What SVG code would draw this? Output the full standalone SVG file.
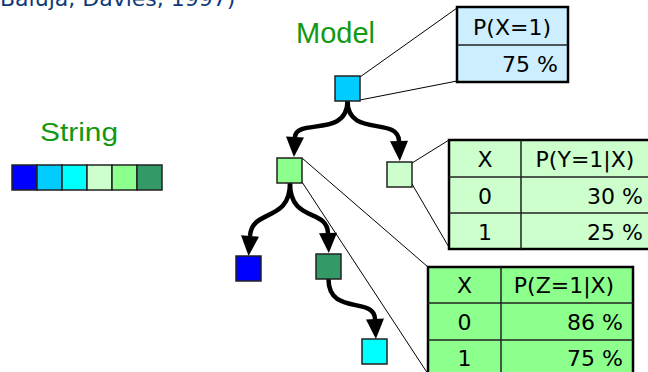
<svg xmlns="http://www.w3.org/2000/svg" width="648" height="372" viewBox="0 0 648 372">
<defs>
<style>
.node{stroke:#222;stroke-width:1.5}
.thin{stroke:#000;stroke-width:1;fill:none}
.arrow{stroke:#000;stroke-width:4.5;fill:none;marker-end:url(#ah)}
.tbl{stroke:#000;stroke-width:2.5}
.div{stroke:#222;stroke-width:1.5}
.tt{font-family:"DejaVu Sans",Verdana,sans-serif;font-size:22px;fill:#000}
.c{text-anchor:middle}
.r{text-anchor:end}
.title{font-family:"Liberation Sans",Arial,sans-serif;fill:#119911}
</style>
<marker id="ah" markerUnits="userSpaceOnUse" markerWidth="21" markerHeight="20" viewBox="0 -10 21 20" refX="0" refY="0" orient="auto" overflow="visible">
<path d="M0,-9 L20,0 L0,9 z" fill="#000"/>
</marker>
</defs>
<rect width="648" height="372" fill="#fff"/>
<text x="0" y="6" font-family="DejaVu Sans,Verdana,sans-serif" font-size="22" fill="#0f3a78">Baluja, Davies, 1997)</text>
<text id="label-string" class="title" x="40" y="141" font-size="26" textLength="78" lengthAdjust="spacingAndGlyphs">String</text>
<text id="label-model" class="title" x="296" y="43" font-size="29">Model</text>
<g id="string">
<rect class="node" x="12" y="165" width="25" height="25" fill="#0000ff"/>
<rect class="node" x="37" y="165" width="25" height="25" fill="#00ccff"/>
<rect class="node" x="62" y="165" width="25" height="25" fill="#00ffff"/>
<rect class="node" x="87" y="165" width="25" height="25" fill="#ccffcc"/>
<rect class="node" x="112" y="165" width="25" height="25" fill="#8cff8c"/>
<rect class="node" x="137" y="165" width="25" height="25" fill="#339966"/>
</g>
<g id="connectors">
<line class="thin" x1="360" y1="77" x2="457" y2="8"/>
<line class="thin" x1="360" y1="100" x2="457" y2="81"/>
<line class="thin" x1="412" y1="163" x2="449" y2="140"/>
<line class="thin" x1="412" y1="184" x2="450" y2="249"/>
<line class="thin" x1="302" y1="158" x2="428" y2="267"/>
<line class="thin" x1="302" y1="182" x2="430" y2="377"/>
<path class="arrow" d="M347.5,101 C347.5,138 296,118 295,137"/>
<path class="arrow" d="M347.5,101 C347.5,138 398,116 399,141"/>
<path class="arrow" d="M290,183 C290,223 252,208 250,236"/>
<path class="arrow" d="M290,183 C290,223 327,208 328,233"/>
<path class="arrow" d="M328.5,279 C328.5,316 374,296 375,319"/>
</g>
<g id="node-x"><rect class="node" x="335" y="76" width="25" height="25" fill="#00ccff"/></g>
<g id="node-z"><rect class="node" x="277" y="158" width="25" height="25" fill="#8cff8c"/></g>
<g id="node-y"><rect class="node" x="387" y="162" width="25" height="25" fill="#ccffcc"/></g>
<g id="node-a"><rect class="node" x="236" y="256" width="25" height="25" fill="#0000ff"/></g>
<g id="node-b"><rect class="node" x="316" y="254" width="25" height="25" fill="#339966"/></g>
<g id="node-c"><rect class="node" x="362" y="339" width="25" height="25" fill="#00ffff"/></g>
<g id="table-x">
<rect class="tbl" x="457" y="7" width="111" height="75" fill="#cceeff"/>
<line class="div" x1="457" y1="45" x2="568" y2="45"/>
<text class="tt c" x="512" y="35">P(X=1)</text>
<text class="tt r" x="558" y="72">75 %</text>
</g>
<g id="table-y">
<rect class="tbl" x="449" y="140" width="205" height="109" fill="#ccffcc"/>
<line class="div" x1="521" y1="140" x2="521" y2="249"/>
<line class="div" x1="449" y1="177" x2="654" y2="177"/>
<line class="div" x1="449" y1="213" x2="654" y2="213"/>
<text class="tt c" x="485" y="167">X</text>
<text class="tt c" x="585" y="167">P(Y=1|X)</text>
<text class="tt c" x="485" y="204">0</text>
<text class="tt r" x="643" y="204">30 %</text>
<text class="tt c" x="485" y="240">1</text>
<text class="tt r" x="643" y="240">25 %</text>
</g>
<g id="table-z">
<rect class="tbl" x="428" y="267" width="205" height="112" fill="#8cff8c"/>
<line class="div" x1="501" y1="267" x2="501" y2="379"/>
<line class="div" x1="428" y1="303" x2="633" y2="303"/>
<line class="div" x1="428" y1="340" x2="633" y2="340"/>
<text class="tt c" x="464.5" y="293">X</text>
<text class="tt c" x="564" y="293">P(Z=1|X)</text>
<text class="tt c" x="464.5" y="330">0</text>
<text class="tt r" x="623" y="330">86 %</text>
<text class="tt c" x="464.5" y="366">1</text>
<text class="tt r" x="623" y="366">75 %</text>
</g>
</svg>
